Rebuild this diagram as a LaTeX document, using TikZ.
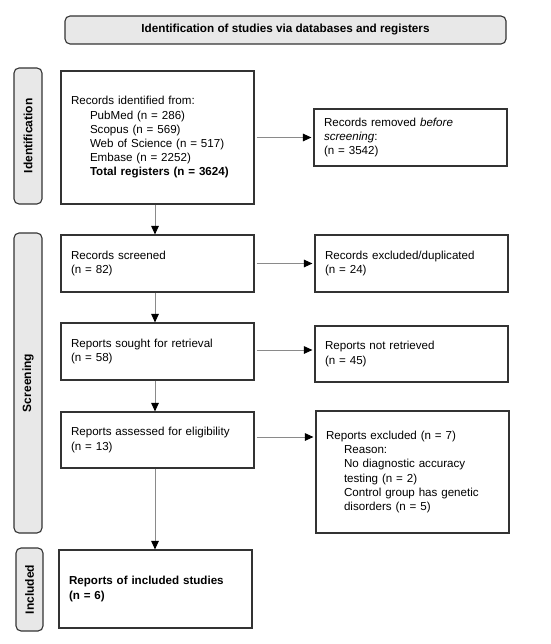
\documentclass[tikz,border=0pt]{standalone}
\usepackage{fontspec}
\setmainfont{Liberation Sans}
\usetikzlibrary{arrows.meta}
\definecolor{boxline}{HTML}{333333}
\definecolor{sidefill}{HTML}{E8E8E8}
\definecolor{conn}{HTML}{8A8A8A}
\begin{document}
\begin{tikzpicture}[x=1pt,y=-1pt,
  txt/.style={font=\fontsize{11.6}{14.2}\selectfont},
  flowbox/.style={txt,draw=boxline,line width=1.1pt,fill=white,rectangle,
    inner xsep=10pt,inner ysep=4pt,align=left},
  sidebox/.style={draw=boxline,line width=1.1pt,fill=sidefill,rounded corners=5pt,
    rotate=90,inner sep=0pt,font=\fontsize{12}{14}\selectfont\bfseries},
  headbox/.style={draw=boxline,line width=1.1pt,fill=sidefill,rounded corners=5pt,
    inner sep=0pt,font=\fontsize{11.7}{14}\selectfont\bfseries},
  conn/.style={draw=conn,line width=1pt,-{Triangle[length=8.5pt,width=7.5pt,fill=black,color=black]}}
]
\useasboundingbox (0,0) rectangle (550,644);

% header
\node[headbox,minimum width=441pt,minimum height=28pt] (head) at (285.5,30)
  {Identification of studies via databases and registers};

% side labels
\node[sidebox,minimum width=136pt,minimum height=28pt] (sideid) at (28,136) {Identification};
\node[sidebox,minimum width=300pt,minimum height=28pt] (sidescr) at (28,383) {Screening};
\node[sidebox,minimum width=83pt,minimum height=27pt] (sideinc) at (29.5,589.5) {Included};

% left column
\node[flowbox,text width=173pt,minimum height=133pt] (ident) at (157.5,137.5)
  {Records identified from:\\
   \hspace*{19pt}PubMed (n = 286)\\
   \hspace*{19pt}Scopus (n = 569)\\
   \hspace*{19pt}Web of Science (n = 517)\\
   \hspace*{19pt}Embase (n = 2252)\\
   \hspace*{19pt}\textbf{Total registers (n = 3624)}};
\node[flowbox,text width=173pt,minimum height=57pt] (screen) at (157.5,263.5)
  {Records screened\\(n = 82)};
\node[flowbox,text width=173pt,minimum height=57pt] (sought) at (157.5,351.5)
  {Reports sought for retrieval\\(n = 58)};
\node[flowbox,text width=173pt,minimum height=56pt] (assess) at (157.5,440)
  {Reports assessed for eligibility\\(n = 13)};
\node[flowbox,text width=173pt,minimum height=78pt] (incl) at (155.5,589)
  {\textbf{Reports of included studies}\\\textbf{(n = 6)}};

% right column
\node[flowbox,text width=173pt,minimum height=57pt] (removed) at (410.5,137.5)
  {Records removed \textit{before}\\\textit{screening}:\\(n = 3542)};
\node[flowbox,text width=173pt,minimum height=57pt] (exdup) at (411.5,263.5)
  {Records excluded/duplicated\\(n = 24)};
\node[flowbox,text width=173pt,minimum height=56pt] (notret) at (411.5,354)
  {Reports not retrieved\\(n = 45)};
\node[flowbox,text width=173pt,minimum height=122pt] (excl) at (412.5,472)
  {Reports excluded (n = 7)\\
   \hspace*{18pt}Reason:\\
   \hspace*{18pt}No diagnostic accuracy\\
   \hspace*{18pt}testing (n = 2)\\
   \hspace*{18pt}Control group has genetic\\
   \hspace*{18pt}disorders (n = 5)};

% vertical connectors
\draw[conn] (ident.south -| 155,0) -- (screen.north -| 155,0);
\draw[conn] (screen.south -| 155,0) -- (sought.north -| 155,0);
\draw[conn] (sought.south -| 155,0) -- (assess.north -| 155,0);
\draw[conn] (assess.south -| 155,0) -- (incl.north -| 155,0);

% horizontal connectors
\draw[conn,shorten <=2pt,shorten >=2pt] (ident.east) -- (ident.east -| removed.west);
\draw[conn,shorten <=2pt,shorten >=2pt] (screen.east) -- (screen.east -| exdup.west);
\draw[conn,shorten <=2pt,shorten >=2pt] ([yshift=1.5pt]sought.east) -- ([yshift=1.5pt]sought.east -| notret.west);
\draw[conn,shorten <=2pt,shorten >=2pt] ([yshift=3pt]assess.east) -- ([yshift=3pt]assess.east -| excl.west);
\end{tikzpicture}
\end{document}
